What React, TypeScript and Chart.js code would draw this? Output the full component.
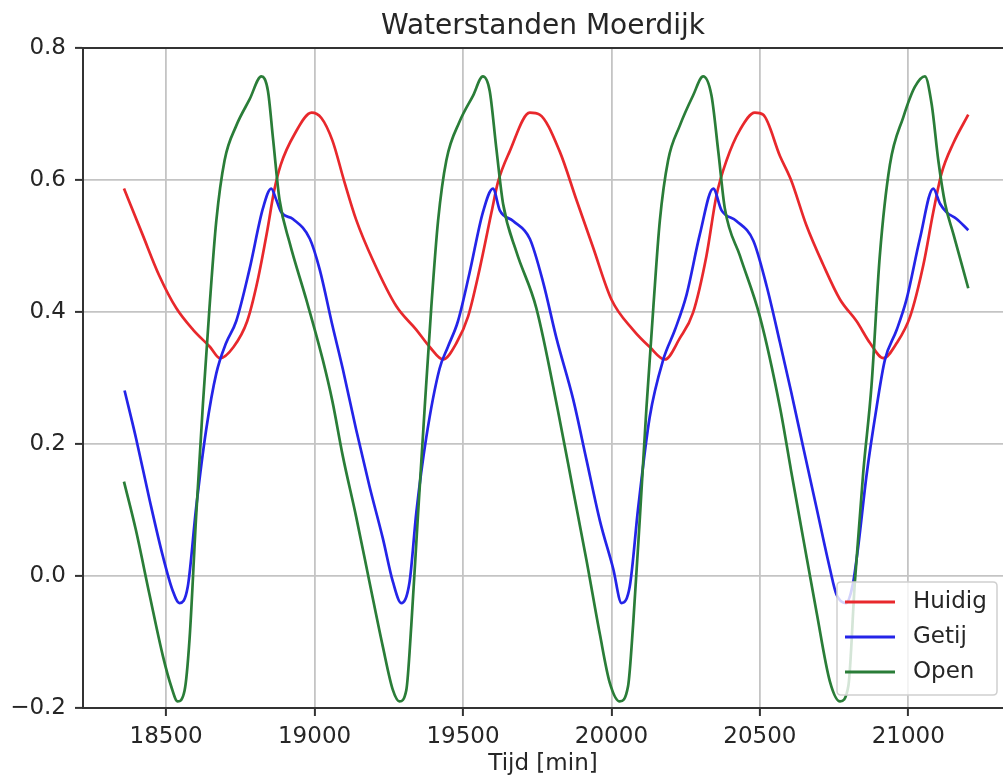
import React, { useEffect, useRef } from 'react';
import { Chart, registerables } from 'chart.js';

Chart.register(...registerables);

const chartTitle = 'Waterstanden Moerdijk';
const xAxisLabel = 'Tijd [min]';
const seriesNames = ['Huidig', 'Getij', 'Open'];
const seriesColors = ['#e8282c', '#2424e8', '#2a7d38'];
const xTicks = [18500, 19000, 19500, 20000, 20500, 21000];
const yTicks = [-0.2, 0, 0.2, 0.4, 0.6, 0.8];

const huidigT = [18358, 18420, 18477, 18534, 18591, 18648, 18682, 18727, 18773, 18807, 18841, 18864, 18886, 18932, 18990, 19023, 19060, 19100, 19140, 19197, 19275, 19343, 19388, 19433, 19478, 19517, 19556, 19596, 19618, 19657, 19725, 19758, 19826, 19882, 19938, 20000, 20073, 20129, 20180, 20230, 20275, 20320, 20354, 20388, 20433, 20483, 20511, 20568, 20605, 20657, 20713, 20770, 20826, 20871, 20916, 20961, 21006, 21051, 21084, 21112, 21152, 21202];
const huidigV = [0.587, 0.518, 0.455, 0.406, 0.373, 0.347, 0.330, 0.347, 0.386, 0.445, 0.524, 0.584, 0.623, 0.669, 0.702, 0.694, 0.660, 0.598, 0.540, 0.478, 0.409, 0.373, 0.347, 0.328, 0.353, 0.393, 0.465, 0.551, 0.597, 0.643, 0.702, 0.699, 0.643, 0.570, 0.498, 0.419, 0.373, 0.347, 0.328, 0.360, 0.399, 0.485, 0.577, 0.630, 0.676, 0.702, 0.699, 0.636, 0.600, 0.531, 0.472, 0.419, 0.386, 0.353, 0.330, 0.353, 0.393, 0.472, 0.551, 0.610, 0.656, 0.699];

const getijT = [18360, 18399, 18444, 18489, 18522, 18545, 18573, 18601, 18635, 18669, 18702, 18736, 18781, 18826, 18854, 18871, 18888, 18927, 18984, 19017, 19060, 19095, 19140, 19185, 19230, 19264, 19292, 19320, 19343, 19376, 19421, 19449, 19483, 19522, 19567, 19601, 19624, 19669, 19725, 19770, 19815, 19871, 19916, 19961, 20006, 20034, 20062, 20090, 20129, 20174, 20214, 20253, 20298, 20343, 20371, 20421, 20478, 20523, 20568, 20605, 20646, 20691, 20736, 20758, 20790, 20812, 20830, 20860, 20893, 20921, 20961, 20994, 21039, 21084, 21107, 21129, 21163, 21202];
const getijV = [0.281, 0.208, 0.116, 0.030, -0.022, -0.041, -0.016, 0.103, 0.222, 0.307, 0.353, 0.386, 0.465, 0.557, 0.587, 0.570, 0.551, 0.541, 0.511, 0.465, 0.380, 0.314, 0.222, 0.136, 0.057, -0.009, -0.041, -0.009, 0.097, 0.209, 0.314, 0.347, 0.386, 0.459, 0.551, 0.587, 0.554, 0.538, 0.511, 0.445, 0.360, 0.268, 0.176, 0.084, 0.011, -0.041, -0.015, 0.103, 0.241, 0.327, 0.373, 0.426, 0.518, 0.587, 0.554, 0.538, 0.508, 0.439, 0.353, 0.280, 0.195, 0.103, 0.011, -0.028, -0.041, -0.015, 0.040, 0.155, 0.255, 0.327, 0.373, 0.419, 0.511, 0.587, 0.564, 0.551, 0.541, 0.524];

const openT = [18358, 18398, 18444, 18489, 18517, 18539, 18562, 18579, 18601, 18624, 18646, 18669, 18697, 18736, 18781, 18821, 18843, 18860, 18882, 18916, 18972, 19028, 19060, 19095, 19140, 19185, 19230, 19264, 19286, 19309, 19326, 19348, 19371, 19393, 19416, 19444, 19489, 19534, 19567, 19590, 19612, 19635, 19680, 19747, 19820, 19871, 19916, 19961, 19994, 20028, 20056, 20073, 20096, 20118, 20141, 20163, 20191, 20230, 20275, 20309, 20337, 20360, 20382, 20433, 20500, 20568, 20605, 20646, 20691, 20736, 20770, 20798, 20820, 20848, 20876, 20904, 20938, 20983, 21022, 21056, 21079, 21101, 21124, 21152, 21202];
const openV = [0.143, 0.070, -0.028, -0.121, -0.167, -0.190, -0.174, -0.095, 0.090, 0.261, 0.406, 0.538, 0.630, 0.682, 0.722, 0.757, 0.735, 0.663, 0.570, 0.505, 0.419, 0.327, 0.265, 0.182, 0.090, -0.009, -0.107, -0.173, -0.190, -0.173, -0.074, 0.090, 0.255, 0.406, 0.538, 0.630, 0.689, 0.728, 0.757, 0.735, 0.649, 0.564, 0.491, 0.406, 0.250, 0.130, 0.024, -0.088, -0.161, -0.190, -0.167, -0.074, 0.090, 0.255, 0.406, 0.538, 0.630, 0.682, 0.728, 0.757, 0.728, 0.643, 0.557, 0.485, 0.393, 0.255, 0.160, 0.057, -0.055, -0.160, -0.190, -0.167, -0.009, 0.156, 0.288, 0.485, 0.623, 0.695, 0.741, 0.757, 0.714, 0.630, 0.564, 0.518, 0.436];

const textColor = '#262626';
const FONT = 'DejaVu Sans';

const toPoints = (t: number[], v: number[]) => t.map((x, i) => ({ x, y: v[i] }));

const fmtY = (val: number | string) => {
  const n = Number(val);
  const s = Math.abs(n).toFixed(1);
  return n < -1e-9 ? '\u2212' + s : s;
};

const framePlugin = {
  id: 'frameAndLegend',
  afterDatasetsDraw(chart: any) {
    const { ctx, chartArea } = chart;
    ctx.save();
    // top spine
    ctx.strokeStyle = '#333333';
    ctx.lineWidth = 2;
    ctx.beginPath();
    ctx.moveTo(chartArea.left, chartArea.top);
    ctx.lineTo(chartArea.right, chartArea.top);
    ctx.stroke();

    // legend box (lower right, inside axes)
    const w = 160;
    const h = 113;
    const x0 = chartArea.right - 6 - w;
    const y0 = chartArea.bottom - 13 - h;
    const r = 4;
    ctx.beginPath();
    ctx.moveTo(x0 + r, y0);
    ctx.lineTo(x0 + w - r, y0);
    ctx.quadraticCurveTo(x0 + w, y0, x0 + w, y0 + r);
    ctx.lineTo(x0 + w, y0 + h - r);
    ctx.quadraticCurveTo(x0 + w, y0 + h, x0 + w - r, y0 + h);
    ctx.lineTo(x0 + r, y0 + h);
    ctx.quadraticCurveTo(x0, y0 + h, x0, y0 + h - r);
    ctx.lineTo(x0, y0 + r);
    ctx.quadraticCurveTo(x0, y0, x0 + r, y0);
    ctx.closePath();
    ctx.fillStyle = 'rgba(255,255,255,0.8)';
    ctx.fill();
    ctx.strokeStyle = '#d0d0d0';
    ctx.lineWidth = 1.5;
    ctx.stroke();

    const datasets = chart.data.datasets;
    ctx.font = `23px "${FONT}"`;
    ctx.textBaseline = 'middle';
    ctx.textAlign = 'left';
    datasets.forEach((ds: any, i: number) => {
      const y = y0 + 20 + i * 35;
      ctx.strokeStyle = ds.borderColor;
      ctx.lineWidth = 3;
      ctx.beginPath();
      ctx.moveTo(x0 + 8, y);
      ctx.lineTo(x0 + 58, y);
      ctx.stroke();
      ctx.fillStyle = textColor;
      ctx.fillText(ds.label, x0 + 76, y);
    });
    ctx.restore();
  },
};

export default function App() {
  const ref = useRef<HTMLCanvasElement>(null);

  useEffect(() => {
    if (!ref.current) return;
    Chart.defaults.font.family = FONT;
    const series = [toPoints(huidigT, huidigV), toPoints(getijT, getijV), toPoints(openT, openV)];
    const chart = new Chart(ref.current, {
      type: 'line',
      data: {
        datasets: series.map((data, i) => ({
          label: seriesNames[i],
          data,
          borderColor: seriesColors[i],
          backgroundColor: seriesColors[i],
          borderWidth: 2.7,
          pointRadius: 0,
          fill: false,
          cubicInterpolationMode: 'monotone' as const,
          order: 3 - i,
        })),
      },
      options: {
        animation: false,
        responsive: false,
        maintainAspectRatio: false,
        layout: { padding: 0 },
        plugins: {
          legend: { display: false },
          tooltip: { enabled: false },
          title: {
            display: true,
            text: chartTitle,
            fullSize: false,
            color: textColor,
            font: { size: 28, weight: 'normal', family: FONT, lineHeight: 1.2 },
            padding: { top: 9.6, bottom: 4.8 },
          },
        },
        scales: {
          x: {
            type: 'linear',
            min: 18220,
            max: 21319,
            afterFit: (s: any) => {
              s.height = 72;
            },
            afterBuildTicks: (s: any) => {
              s.ticks = xTicks.map((v) => ({ value: v }));
            },
            ticks: {
              autoSkip: false,
              maxRotation: 0,
              padding: 7,
              color: textColor,
              font: { size: 23, family: FONT },
              callback: (v: any) => String(v),
            },
            grid: {
              color: '#c4c4c4',
              lineWidth: 1.8,
              drawTicks: true,
              tickLength: 8,
              tickColor: '#333333',
              tickWidth: 2,
            },
            border: { display: true, color: '#333333', width: 2 },
            title: {
              display: true,
              text: xAxisLabel,
              color: textColor,
              font: { size: 23, family: FONT },
              padding: { top: 0, bottom: 2 },
            },
          },
          y: {
            type: 'linear',
            min: -0.2,
            max: 0.8,
            afterFit: (s: any) => {
              s.width = 83;
            },
            afterBuildTicks: (s: any) => {
              s.ticks = yTicks.map((v) => ({ value: v }));
            },
            ticks: {
              padding: 9,
              color: textColor,
              font: { size: 23, family: FONT },
              callback: (v: any) => fmtY(v),
            },
            grid: {
              color: '#c4c4c4',
              lineWidth: 1.8,
              drawTicks: true,
              tickLength: 8,
              tickColor: '#333333',
              tickWidth: 2,
            },
            border: { display: true, color: '#333333', width: 2 },
          },
        },
      },
      plugins: [framePlugin],
    });
    return () => chart.destroy();
  }, []);

  return (
    <div style={{ position: 'fixed', left: 0, top: 0, width: 1003, height: 780, background: '#ffffff' }}>
      <canvas ref={ref} width={1003} height={780} style={{ display: 'block', width: 1003, height: 780 }} />
    </div>
  );
}
